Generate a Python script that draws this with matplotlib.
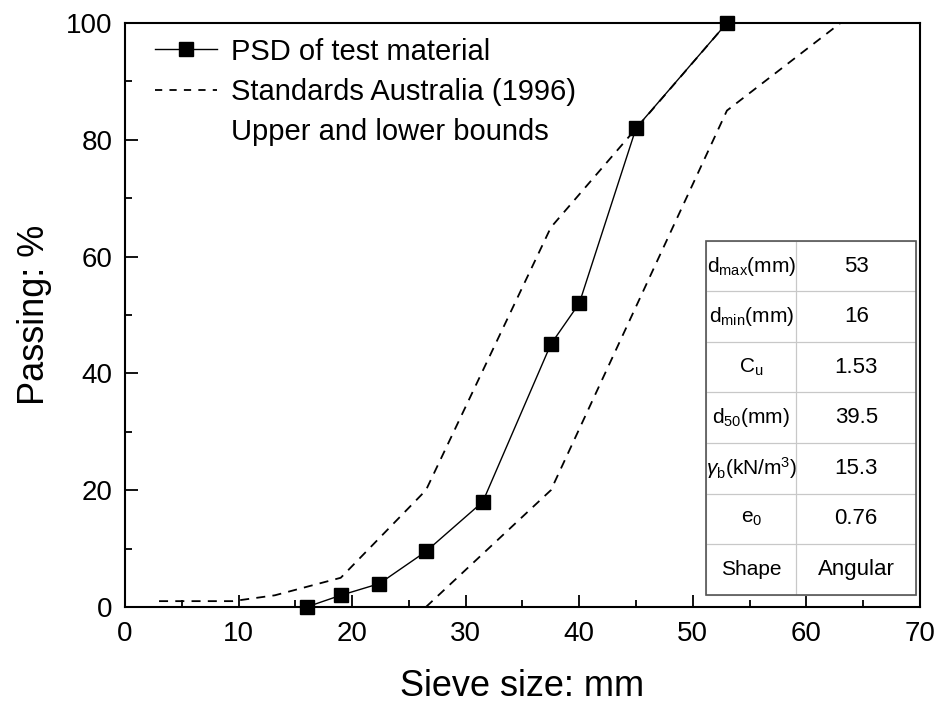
import matplotlib
matplotlib.use('Agg')
import matplotlib.pyplot as plt
from matplotlib.lines import Line2D
from matplotlib.patches import Rectangle

plt.rcParams['font.family'] = ['Liberation Sans', 'DejaVu Sans']
plt.rcParams['mathtext.fontset'] = 'custom'
plt.rcParams['mathtext.rm'] = 'Liberation Sans'
plt.rcParams['mathtext.it'] = 'Liberation Sans:italic'

# grading of the tested ballast
psd_size = [16, 19, 22.4, 26.5, 31.5, 37.5, 40, 45, 53]
psd_pass = [0, 2, 4, 9.5, 18, 45, 52, 82, 100]

# Standards Australia (1996) grading envelope
upper_size = [3, 9.5, 13.2, 19, 26.5, 37.5, 53]
upper_pass = [1, 1, 2, 5, 20, 65, 100]
lower_size = [26.5, 37.5, 53, 63]
lower_pass = [0, 20, 85, 100]

table_keys = [r'd$_{\mathrm{max}}$(mm)', r'd$_{\mathrm{min}}$(mm)', r'C$_{\mathrm{u}}$',
              r'd$_{\mathrm{50}}$(mm)', r'$\gamma_{\mathrm{b}}$(kN/m$^{3}$)',
              r'e$_{\mathrm{0}}$', 'Shape']
table_vals = ['53', '16', '1.53', '39.5', '15.3', '0.76', 'Angular']

fig = plt.figure(figsize=(9.41, 7.09), dpi=100)
ax = fig.add_axes([0.1328, 0.1439, 0.8449, 0.8237])

ax.plot(psd_size, psd_pass, color='black', lw=1.0, marker='s', ms=10,
        clip_on=False, zorder=3)
ax.plot(upper_size, upper_pass, color='black', lw=1.3, ls=(0, (5, 4)))
ax.plot(lower_size, lower_pass, color='black', lw=1.3, ls=(0, (5, 4)))

ax.set_xlim(0, 70)
ax.set_ylim(0, 100)
ax.set_xticks(range(0, 71, 10))
ax.set_xticks(range(5, 70, 10), minor=True)
ax.set_yticks(range(0, 101, 20))
ax.set_yticks(range(10, 100, 20), minor=True)
ax.tick_params(which='both', direction='in', labelsize=20, top=False, right=False)
ax.tick_params(which='major', length=9, width=1.3)
ax.tick_params(axis='x', which='major', pad=10)
ax.tick_params(axis='y', which='major', pad=9)
ax.tick_params(which='minor', length=5, width=1.3)
for s in ax.spines.values():
    s.set_linewidth(1.5)

ax.set_xlabel('Sieve size: mm', fontsize=26, labelpad=16)
ax.set_ylabel('Passing: %', fontsize=26, labelpad=10)

handles = [
    Line2D([], [], color='black', lw=1.0, marker='s', ms=10),
    Line2D([], [], color='black', lw=1.3, ls=(0, (4, 4))),
    Line2D([], [], color='none'),
]
labels = ['PSD of test material', 'Standards Australia (1996)', 'Upper and lower bounds']
ax.legend(handles, labels, loc='upper left', frameon=False, fontsize=21,
          handlelength=2.1, handletextpad=0.5, labelspacing=0.42,
          borderaxespad=0.1, bbox_to_anchor=(0.02, 1.0))

# property table in the lower-right corner
tb_box = [0.731, 0.021, 0.264, 0.606]
tab = ax.table(cellText=[[k, v] for k, v in zip(table_keys, table_vals)],
               cellLoc='center', bbox=tb_box, colWidths=[0.43, 0.57], zorder=4)
tab.auto_set_font_size(False)
for (r, c), cell in tab.get_celld().items():
    cell.set_edgecolor('#c8c8c8')
    cell.set_linewidth(0.8)
    cell.set_facecolor('none')
    cell.PAD = 0.02
    cell.get_text().set_fontsize(15 if c == 0 else 16)
ax.add_patch(Rectangle((tb_box[0], tb_box[1]), tb_box[2], tb_box[3],
                       transform=ax.transAxes, fill=False, edgecolor='#555555',
                       lw=1.2, zorder=5))

fig.savefig('out.png', dpi=100)
